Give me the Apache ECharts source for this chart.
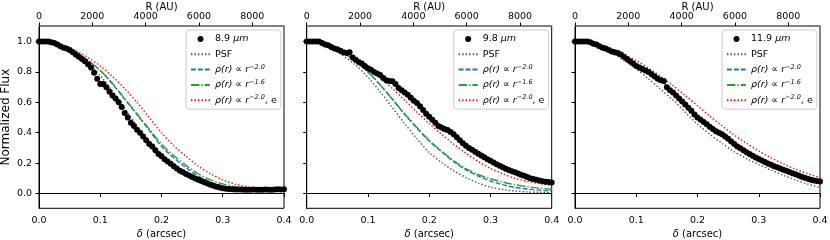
<!DOCTYPE html>
<html><head><meta charset="utf-8">
<script src="https://cdn.jsdelivr.net/npm/echarts@6/dist/echarts.min.js"></script>
<style>html,body{margin:0;padding:0;background:#fff}#c{width:830px;height:240px}</style>
</head><body><div id="c"></div>
<script>
// ---- data ----
const DOT_X = [0,0.005,0.01,0.015,0.02,0.025,0.03,0.035,0.04,0.045,0.05,0.055,0.06,0.065,0.07,0.075,0.08,0.085,0.09,0.095,
0.1,0.105,0.11,0.115,0.12,0.125,0.13,0.135,0.14,0.145,0.15,0.155,0.16,0.165,0.17,0.175,0.18,0.185,0.19,0.195,
0.2,0.205,0.21,0.215,0.22,0.225,0.23,0.235,0.24,0.245,0.25,0.255,0.26,0.265,0.27,0.275,0.28,0.285,0.29,0.295,
0.3,0.305,0.31,0.315,0.32,0.325,0.33,0.335,0.34,0.345,0.35,0.355,0.36,0.365,0.37,0.375,0.38,0.385,0.39,0.395,0.4];
const LINE_X = [0,0.02,0.04,0.06,0.08,0.1,0.12,0.14,0.16,0.18,0.2,0.22,0.24,0.26,0.28,0.3,0.32,0.34,0.36,0.38,0.4];

const WAVELENGTHS = ['8.9 μm','9.8 μm','11.9 μm'];

const OBS_89 = [1.0,1.0,1.0,1.0,0.995,0.99,0.98,0.97,0.96,0.955,0.945,0.93,0.915,0.9,0.885,0.87,0.85,0.83,0.795,0.755,
0.72,0.72,0.70,0.67,0.645,0.625,0.60,0.57,0.53,0.50,0.465,0.445,0.42,0.40,0.375,0.35,0.325,0.31,0.285,0.26,
0.245,0.225,0.21,0.195,0.18,0.165,0.15,0.14,0.128,0.118,0.108,0.098,0.09,0.082,0.074,0.066,0.058,0.051,0.045,0.04,
0.035,0.032,0.03,0.028,0.027,0.026,0.026,0.025,0.025,0.025,0.026,0.025,0.024,0.025,0.026,0.025,0.024,0.026,0.028,0.027,0.028];
const OBS_98 = [1.0,1.0,1.0,1.0,1.0,0.99,0.98,0.975,0.965,0.955,0.95,0.94,0.93,0.925,0.93,0.895,0.88,0.865,0.855,0.84,
0.825,0.815,0.80,0.79,0.78,0.76,0.745,0.74,0.738,0.72,0.695,0.68,0.665,0.65,0.63,0.61,0.595,0.575,0.55,0.525,
0.505,0.485,0.465,0.445,0.435,0.425,0.418,0.405,0.39,0.37,0.35,0.33,0.315,0.30,0.288,0.275,0.262,0.25,0.238,0.226,
0.215,0.204,0.193,0.182,0.172,0.163,0.155,0.147,0.139,0.131,0.123,0.116,0.108,0.101,0.095,0.09,0.085,0.081,0.078,0.075,0.073];
const OBS_119 = [1.0,1.0,1.0,1.0,1.0,0.995,0.985,0.98,0.97,0.96,0.955,0.945,0.935,0.93,0.925,0.915,0.90,0.885,0.87,0.855,
0.84,0.83,0.82,0.81,0.80,0.785,0.77,0.755,0.745,0.74,0.70,0.68,0.665,0.645,0.625,0.605,0.585,0.565,0.545,0.52,
0.50,0.485,0.47,0.455,0.44,0.425,0.41,0.40,0.39,0.375,0.36,0.342,0.325,0.31,0.297,0.284,0.272,0.26,0.248,0.237,
0.227,0.217,0.207,0.198,0.189,0.18,0.172,0.164,0.157,0.149,0.141,0.133,0.126,0.118,0.111,0.104,0.097,0.091,0.086,0.082,0.079];

const PSF_89 = [1.0,0.99,0.965,0.92,0.86,0.775,0.675,0.56,0.445,0.34,0.25,0.175,0.12,0.08,0.052,0.035,0.027,0.024,0.023,0.023,0.024];
const R20_89 = [1.0,0.99,0.97,0.93,0.875,0.81,0.72,0.62,0.52,0.415,0.31,0.235,0.17,0.115,0.075,0.05,0.035,0.03,0.027,0.026,0.027];
const R16_89 = [1.0,0.99,0.97,0.93,0.875,0.81,0.725,0.625,0.525,0.425,0.325,0.25,0.185,0.13,0.09,0.063,0.044,0.034,0.029,0.027,0.027];
const RE_89  = [1.0,0.99,0.975,0.94,0.895,0.84,0.77,0.69,0.60,0.50,0.40,0.315,0.245,0.18,0.13,0.09,0.062,0.044,0.034,0.029,0.027];

const PSF_98 = [1.0,0.985,0.955,0.905,0.845,0.765,0.67,0.565,0.46,0.36,0.27,0.205,0.15,0.105,0.068,0.042,0.026,0.016,0.01,0.008,0.007];
const R20_98 = [1.0,0.99,0.965,0.925,0.87,0.80,0.715,0.62,0.52,0.43,0.345,0.275,0.21,0.155,0.115,0.082,0.058,0.04,0.03,0.022,0.018];
const R16_98 = [1.0,0.99,0.965,0.925,0.87,0.80,0.715,0.62,0.525,0.435,0.35,0.28,0.215,0.163,0.125,0.097,0.075,0.058,0.045,0.035,0.028];
const RE_98  = [1.0,0.99,0.97,0.935,0.885,0.82,0.76,0.69,0.615,0.535,0.46,0.39,0.325,0.265,0.21,0.165,0.13,0.10,0.08,0.065,0.055];

const PSF_119 = [1.0,0.99,0.965,0.925,0.875,0.82,0.755,0.685,0.615,0.535,0.457,0.39,0.33,0.275,0.23,0.19,0.155,0.12,0.09,0.062,0.04];
const R20_119 = [1.0,0.995,0.97,0.935,0.9,0.845,0.80,0.745,0.665,0.585,0.50,0.44,0.39,0.33,0.272,0.228,0.19,0.157,0.126,0.097,0.08];
const R16_119 = [1.0,0.995,0.97,0.935,0.9,0.845,0.80,0.745,0.667,0.587,0.502,0.442,0.39,0.33,0.273,0.229,0.19,0.157,0.126,0.097,0.078];
const RE_119  = [1.0,0.995,0.975,0.945,0.91,0.875,0.825,0.77,0.71,0.645,0.578,0.51,0.445,0.385,0.33,0.28,0.235,0.195,0.16,0.13,0.105];

const Y_TICKS = [0,0.2,0.4,0.6,0.8,1.0];
const X_TICKS = [0,0.1,0.2,0.3,0.4];
const R_TICKS = [0,2000,4000,6000,8000];
const R_MAX = 9190;

const N_PSF = 'PSF', N_R20 = 'ρ(r) ∝ r^-2.0', N_R16 = 'ρ(r) ∝ r^-1.6', N_RE = 'ρ(r) ∝ r^-2.0, e';

const PANELS = [
  {obs: OBS_89, psf: PSF_89, r20: R20_89, r16: R16_89, re: RE_89},
  {obs: OBS_98, psf: PSF_98, r20: R20_98, r16: R16_98, re: RE_98},
  {obs: OBS_119, psf: PSF_119, r20: R20_119, r16: R16_119, re: RE_119}
];

// ---- layout ----
const FONT = 'DejaVu Sans';
const GL = [39, 306.7, 575];
const GT = 26, GW = 245, GH = 182.3;
const LW = 1.4;

const grids = [], xAxes = [], yAxes = [], series = [], legends = [];
const pair = (xs, ys) => xs.map((x, i) => [x, ys[i]]);

function legendFmt(name) {
  if (name === N_PSF) return 'PSF';
  if (name.indexOf('μm') >= 0) return name.split(' ')[0] + ' {it|μm}';
  if (name === N_R20) return '{it|ρ(r)} ∝ {it|r}{sup|−2.0}';
  if (name === N_R16) return '{it|ρ(r)} ∝ {it|r}{sup|−1.6}';
  if (name === N_RE) return '{it|ρ(r)} ∝ {it|r}{sup|−2.0}, e';
  return name;
}
const hiddenSym = {opacity: 0, borderWidth: 0};

PANELS.forEach((p, k) => {
  grids.push({left: GL[k], top: GT, width: GW, height: GH, outerBoundsMode: 'none', containLabel: false,
    show: true, borderColor: '#000', borderWidth: 1, backgroundColor: 'transparent'});
  xAxes.push({
    type: 'value', gridIndex: k, position: 'bottom', min: 0, max: 0.4,
    axisLine: {show: true, lineStyle: {color: '#000', width: 1}},
    axisTick: {show: true, inside: false, length: 3.5, lineStyle: {color: '#000'}, customValues: X_TICKS},
    axisLabel: {color: '#000', fontFamily: FONT, fontSize: 9.5, margin: 7, customValues: X_TICKS, formatter: v => v.toFixed(1)},
    splitLine: {show: false},
    name: '{it|δ} (arcsec)', nameLocation: 'middle', nameGap: 21, nameMoveOverlap: false,
    nameTextStyle: {color: '#000', fontFamily: FONT, fontSize: 10, rich: {it: {fontStyle: 'italic', fontFamily: FONT, fontSize: 10, color: '#000'}}}
  });
  xAxes.push({
    type: 'value', gridIndex: k, position: 'top', min: 0, max: R_MAX,
    axisLine: {show: true, lineStyle: {color: '#808080', width: 1.6}},
    axisTick: {show: true, inside: false, length: 3.5, lineStyle: {color: '#000'}, customValues: R_TICKS},
    axisLabel: {color: '#000', fontFamily: FONT, fontSize: 9.5, margin: 4.5, customValues: R_TICKS, formatter: v => String(v)},
    splitLine: {show: false},
    name: 'R (AU)', nameLocation: 'middle', nameGap: 14, nameMoveOverlap: false,
    nameTextStyle: {color: '#000', fontFamily: FONT, fontSize: 10}
  });
  yAxes.push({
    type: 'value', gridIndex: k, min: -0.0975, max: 1.1025,
    axisLine: {show: true, lineStyle: {color: '#000', width: 1}},
    axisTick: {show: true, inside: false, length: 3.5, lineStyle: {color: '#000'}, customValues: Y_TICKS},
    axisLabel: {show: k === 0, color: '#000', fontFamily: FONT, fontSize: 9.5, margin: 7, customValues: Y_TICKS, formatter: v => v.toFixed(1)},
    splitLine: {show: false},
    name: k === 0 ? 'Normalized Flux' : '', nameLocation: 'middle', nameGap: 27.5, nameMoveOverlap: false,
    nameTextStyle: {color: '#000', fontFamily: FONT, fontSize: 12}
  });
  const xi = 2 * k, yi = k;
  const lineSeries = (name, data, color, type) => ({
    type: 'line', name, xAxisIndex: xi, yAxisIndex: yi, data: pair(LINE_X, data),
    showSymbol: false, symbol: 'none', smooth: 0.3, z: 2, silent: true,
    lineStyle: {color, width: LW, type}, itemStyle: {color}
  });
  series.push(lineSeries(N_PSF, p.psf, '#505050', [1.4, 2.1]));
  series.push(lineSeries(N_R20, p.r20, '#1f77b4', [4.9, 2.0]));
  series.push(lineSeries(N_R16, p.r16, '#2ca02c', [8.4, 2.0, 1.4, 2.0]));
  series.push(lineSeries(N_RE, p.re, '#ff0000', [1.4, 2.1]));
  series.push({
    type: 'scatter', name: WAVELENGTHS[k], xAxisIndex: xi, yAxisIndex: yi, data: pair(DOT_X, p.obs),
    symbol: 'circle', symbolSize: 6, itemStyle: {color: '#000', opacity: 1}, z: 3, silent: true
  });
  legends.push({
    orient: 'vertical', left: GL[k] + 147, top: 30,
    data: [
      {name: WAVELENGTHS[k]},
      {name: N_PSF, itemStyle: hiddenSym},
      {name: N_R20, itemStyle: hiddenSym},
      {name: N_R16, itemStyle: hiddenSym},
      {name: N_RE, itemStyle: hiddenSym}
    ],
    itemWidth: 19, itemHeight: 6, itemGap: 3.3, padding: [3, 4, 3, 4],
    borderColor: '#cccccc', borderWidth: 1, borderRadius: 3, backgroundColor: 'rgba(255,255,255,0.8)',
    selectedMode: false, formatter: legendFmt,
    textStyle: {color: '#000', fontFamily: FONT, fontSize: 9.5, lineHeight: 12,
      rich: {
        it: {fontStyle: 'italic', fontFamily: FONT, fontSize: 9.5, color: '#000', lineHeight: 12},
        sup: {fontStyle: 'italic', fontFamily: FONT, fontSize: 6.5, color: '#000', verticalAlign: 'top', lineHeight: 12}
      }}
  });
});

const chart = echarts.init(document.getElementById('c'), null, {renderer: 'canvas'});
chart.setOption({animation: false, grid: grids, xAxis: xAxes, yAxis: yAxes, series, legend: legends});
</script></body></html>
